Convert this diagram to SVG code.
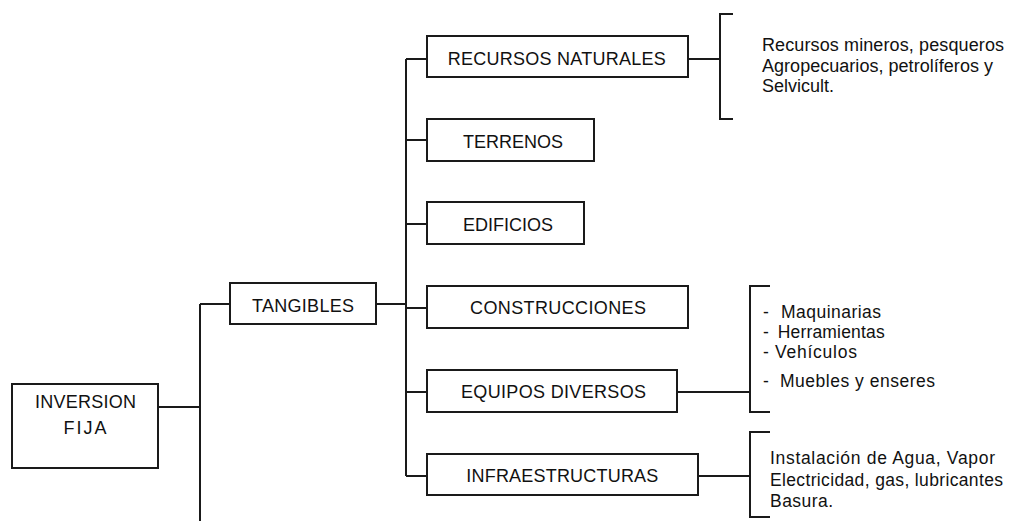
<svg xmlns="http://www.w3.org/2000/svg" width="1010" height="521" viewBox="0 0 1010 521">
<style>
.box{fill:#fff;stroke:#1a1a1a;stroke-width:2}
.ln{fill:none;stroke:#1a1a1a;stroke-width:2}
text{font-family:"Liberation Sans",Arial,sans-serif;font-size:18px;fill:#111}
.c{text-anchor:middle}
.s{font-size:17.5px}
</style>
<rect width="1010" height="521" fill="#fff"/>
<g id="connectors">
<path class="ln" d="M158,407H200M200,304V521M200,304H230"/>
<path class="ln" d="M376,304H406M406,59V476"/>
<path class="ln" d="M406,59H427M406,140H427M406,224H427M406,308H427M406,392H427M406,476H427"/>
<path class="ln" d="M688,59H720M733,14H720V119H733"/>
<path class="ln" d="M677,392H750M770,286H750V412H770"/>
<path class="ln" d="M698,476H750M770,432H750V517H770"/>
</g>
<g id="inversion-fija">
<rect class="box" x="12" y="384" width="146" height="84"/>
<text class="c" x="85.5" y="408" textLength="101" lengthAdjust="spacing">INVERSION</text>
<text class="c" x="85" y="434" textLength="43" lengthAdjust="spacing">FIJA</text>
</g>
<g id="tangibles">
<rect class="box" x="230" y="283" width="146" height="41"/>
<text class="c" x="303" y="311.5" textLength="102" lengthAdjust="spacing">TANGIBLES</text>
</g>
<g id="recursos-naturales">
<rect class="box" x="427" y="36" width="261" height="41"/>
<text class="c" x="556.7" y="65" textLength="218" lengthAdjust="spacing">RECURSOS NATURALES</text>
</g>
<g id="terrenos">
<rect class="box" x="427" y="119" width="167" height="42"/>
<text class="c" x="513" y="148" textLength="100" lengthAdjust="spacing">TERRENOS</text>
</g>
<g id="edificios">
<rect class="box" x="427" y="202" width="157" height="42"/>
<text class="c" x="508" y="231" textLength="90" lengthAdjust="spacing">EDIFICIOS</text>
</g>
<g id="construcciones">
<rect class="box" x="427" y="286" width="261" height="42"/>
<text class="c" x="558" y="314" textLength="176" lengthAdjust="spacing">CONSTRUCCIONES</text>
</g>
<g id="equipos-diversos">
<rect class="box" x="427" y="370" width="250" height="42"/>
<text class="c" x="553.5" y="398" textLength="185" lengthAdjust="spacing">EQUIPOS DIVERSOS</text>
</g>
<g id="infraestructuras">
<rect class="box" x="427" y="454" width="271" height="41"/>
<text class="c" x="562.3" y="482" textLength="192" lengthAdjust="spacing">INFRAESTRUCTURAS</text>
</g>
<g id="recursos-detalle">
<text x="762" y="51" textLength="242" lengthAdjust="spacing">Recursos mineros, pesqueros</text>
<text x="762" y="72" textLength="231" lengthAdjust="spacing">Agropecuarios, petrolíferos y</text>
<text x="762" y="92">Selvicult.</text>
</g>
<g id="equipos-detalle" class="s">
<text class="s" x="763" y="317.7"><tspan>- </tspan><tspan x="781" textLength="100" lengthAdjust="spacing">Maquinarias</tspan></text>
<text class="s" x="763" y="338.3"><tspan>- </tspan><tspan x="777.7" textLength="107" lengthAdjust="spacing">Herramientas</tspan></text>
<text class="s" x="763" y="358.3"><tspan>- </tspan><tspan x="775" textLength="82" lengthAdjust="spacing">Vehículos</tspan></text>
<text class="s" x="763" y="386.7"><tspan>- </tspan><tspan x="780" textLength="155" lengthAdjust="spacing">Muebles y enseres</tspan></text>
</g>
<g id="infraestructuras-detalle">
<text class="s" x="770" y="464" textLength="225" lengthAdjust="spacing">Instalación de Agua, Vapor</text>
<text class="s" x="770" y="486" textLength="233" lengthAdjust="spacing">Electricidad, gas, lubricantes</text>
<text class="s" x="770" y="507" textLength="63" lengthAdjust="spacing">Basura.</text>
</g>
</svg>
